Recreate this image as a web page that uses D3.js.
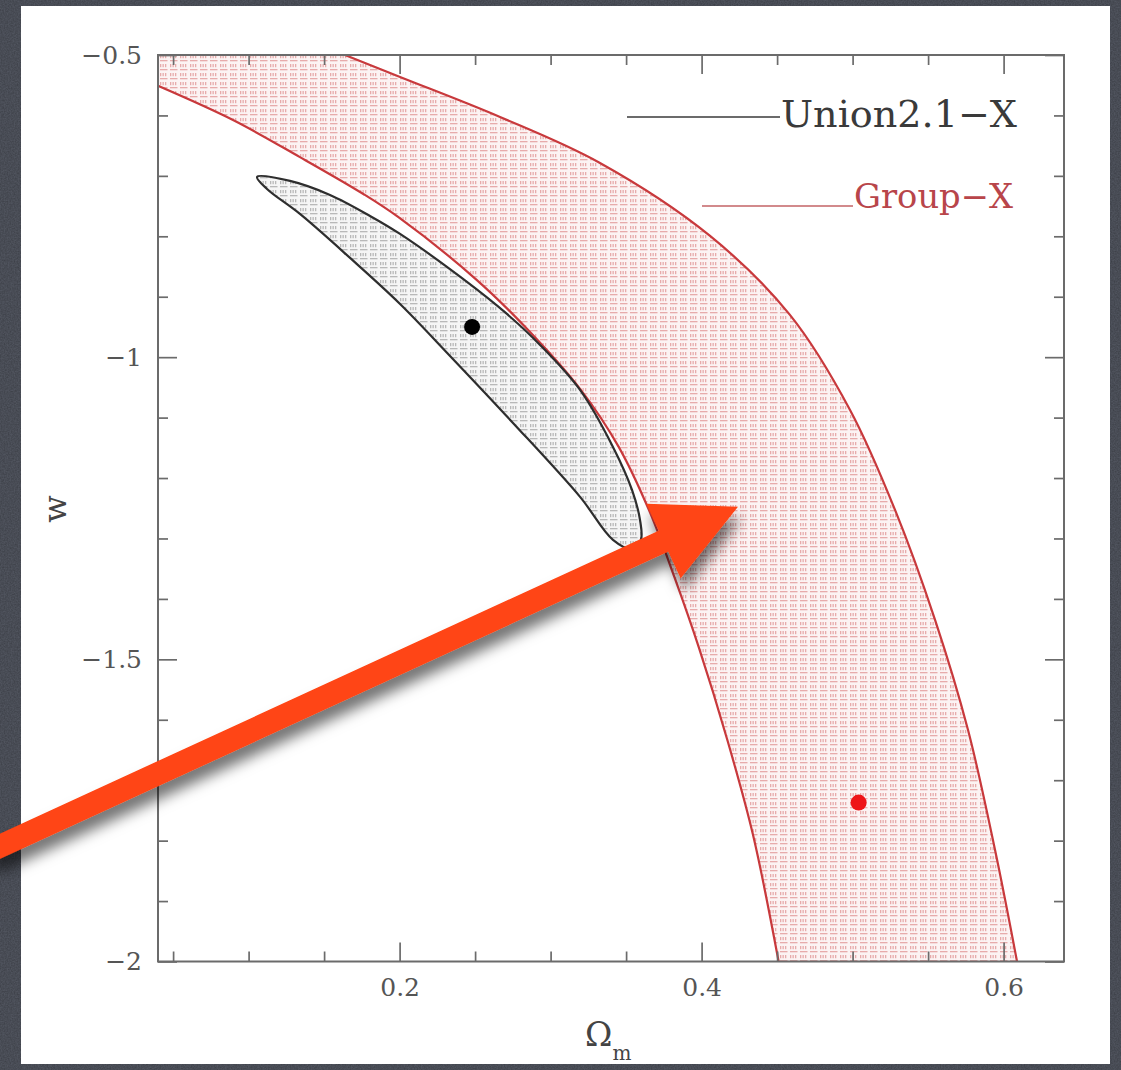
<!DOCTYPE html>
<html>
<head>
<meta charset="utf-8">
<script src="https://cdn.jsdelivr.net/npm/d3@7"></script>
<style>
  html, body { margin: 0; padding: 0; background: #4f535c; }
  svg { display: block; }
</style>
</head>
<body>
<div id="chart"></div>
<script>
/* Omega_m vs w constraints: Union2.1-X contour + Group-X band */

/* ── Data ──────────────────────────────────────────────────────────── */

const X_DOMAIN = [0.04, 0.64];
const Y_DOMAIN = [-2, -0.5];

const X_MAJOR = [0.2, 0.4, 0.6];
const X_LABELS = ['0.2', '0.4', '0.6'];
const X_MINOR = [0.05, 0.1, 0.15, 0.25, 0.3, 0.35, 0.45, 0.5, 0.55];

const Y_MAJOR = [-0.5, -1, -1.5, -2];
const Y_LABELS = ['\u22120.5', '\u22121', '\u22121.5', '\u22122'];
const Y_MINOR = [-0.6, -0.7, -0.8, -0.9, -1.1, -1.2, -1.3, -1.4, -1.6, -1.7, -1.8, -1.9];

// Group-X band, inner (left) edge
const GROUP_LEFT_OM = [0.040, 0.090, 0.134, 0.176, 0.199, 0.251, 0.287, 0.320, 0.345, 0.366, 0.382, 0.398, 0.417, 0.434, 0.451];
const GROUP_LEFT_W  = [-0.551, -0.608, -0.669, -0.730, -0.768, -0.872, -0.960, -1.054, -1.148, -1.258, -1.364, -1.479, -1.633, -1.790, -2.0];

// Group-X band, outer (right) edge
const GROUP_RIGHT_OM = [0.1638, 0.2003, 0.2665, 0.3327, 0.4056, 0.4585, 0.4983, 0.5281, 0.5546, 0.5764, 0.5943, 0.6089];
const GROUP_RIGHT_W  = [-0.5, -0.5364, -0.6026, -0.6787, -0.7994, -0.9301, -1.0873, -1.2527, -1.4347, -1.6166, -1.8151, -2.0];

// Union2.1-X closed contour
const UNION_OM = [0.1056, 0.1274, 0.1539, 0.1804, 0.2003, 0.2420, 0.2711, 0.2930, 0.3195, 0.3413, 0.3539, 0.3592, 0.3598, 0.3539,
                  0.3413, 0.3195, 0.2751, 0.2334, 0.2003, 0.1672, 0.1340, 0.1122];
const UNION_W  = [-0.7018, -0.7084, -0.7316, -0.7663, -0.7961, -0.8705, -0.9285, -0.9797, -1.0542, -1.1485, -1.2196, -1.2692, -1.3023, -1.3172,
                  -1.3023, -1.2312, -1.1088, -0.9979, -0.9119, -0.8358, -0.7630, -0.7217];

// best-fit points
const UNION_BEST = [0.248, -0.95];
const GROUP_BEST = [0.504, -1.737];

// annotation arrow (data coordinates, tail runs off the panel)
const ARROW_FROM = [-0.0713, -1.817];
const ARROW_TO = [0.4241, -1.2477];

const zip = (a, b) => a.map((v, i) => [v, b[i]]);

/* ── Layout ────────────────────────────────────────────────────────── */

const width = 1121, height = 1070;
const plot = { left: 158, right: 1064, top: 55, bottom: 961.5 };

const x = d3.scaleLinear().domain(X_DOMAIN).range([plot.left, plot.right]);
const y = d3.scaleLinear().domain(Y_DOMAIN).range([plot.bottom, plot.top]);

const svg = d3.select('#chart').append('svg')
  .attr('width', width)
  .attr('height', height);

const defs = svg.append('defs');

// slide background texture
const noise = defs.append('filter').attr('id', 'noise')
  .attr('x', 0).attr('y', 0).attr('width', '100%').attr('height', '100%');
noise.append('feTurbulence').attr('type', 'fractalNoise')
  .attr('baseFrequency', 0.7).attr('numOctaves', 2).attr('seed', 4);
noise.append('feColorMatrix').attr('type', 'matrix')
  .attr('values', '0 0 0 0 0  0 0 0 0 0  0 0 0 0 0  0.35 0 0 0 -0.08');

svg.append('rect').attr('width', width).attr('height', height).attr('fill', '#50545e');
svg.append('rect').attr('width', width).attr('height', height).attr('filter', 'url(#noise)');

// hatch patterns like the plotted dot-fill
function makeHatch(id, ink, bg) {
  const p = defs.append('pattern').attr('id', id)
    .attr('patternUnits', 'userSpaceOnUse')
    .attr('width', 10).attr('height', 9);
  p.append('rect').attr('width', 10).attr('height', 9).attr('fill', bg);
  [0, 2.5, 5].forEach(px => {
    p.append('rect').attr('x', px).attr('y', 1).attr('width', 1.3).attr('height', 3.2).attr('fill', ink);
  });
  p.append('rect').attr('x', 0).attr('y', 6).attr('width', 7.5).attr('height', 1.3).attr('fill', ink);
}
makeHatch('hatch-red', '#e7abab', '#fcf3f3');
makeHatch('hatch-grey', '#b8b8b8', '#f5f5f5');

defs.append('clipPath').attr('id', 'plot-clip')
  .append('rect')
  .attr('x', plot.left).attr('y', plot.top)
  .attr('width', plot.right - plot.left).attr('height', plot.bottom - plot.top);

const shadow = defs.append('filter').attr('id', 'shadow')
  .attr('x', '-20%').attr('y', '-20%').attr('width', '140%').attr('height', '160%');
shadow.append('feDropShadow')
  .attr('dx', 3).attr('dy', 12).attr('stdDeviation', 7)
  .attr('flood-color', '#000').attr('flood-opacity', 0.55);

// white slide panel
svg.append('rect')
  .attr('x', 21).attr('y', 6)
  .attr('width', 1089).attr('height', 1058)
  .attr('fill', '#ffffff');

/* ── Contours ──────────────────────────────────────────────────────── */

const line = d3.line().x(d => x(d[0])).y(d => y(d[1])).curve(d3.curveCatmullRom.alpha(0.5));
const loop = d3.line().x(d => x(d[0])).y(d => y(d[1])).curve(d3.curveCatmullRomClosed.alpha(0.5));

const leftPts = zip(GROUP_LEFT_OM, GROUP_LEFT_W);
const rightPts = zip(GROUP_RIGHT_OM, GROUP_RIGHT_W);
const unionPts = zip(UNION_OM, UNION_W);

const plotG = svg.append('g').attr('clip-path', 'url(#plot-clip)');

// band: left edge down, right edge back up, close through top-left corner
const bandPath = line(leftPts)
  + 'L' + line(rightPts.slice().reverse()).slice(1)
  + 'L' + x(X_DOMAIN[0]) + ',' + y(Y_DOMAIN[1]) + 'Z';

plotG.append('path')
  .attr('d', bandPath)
  .attr('fill', 'url(#hatch-red)');

plotG.append('path')
  .attr('d', loop(unionPts))
  .attr('fill', 'url(#hatch-grey)');

[leftPts, rightPts].forEach(pts => {
  plotG.append('path')
    .attr('d', line(pts))
    .attr('fill', 'none')
    .attr('stroke', '#c8393c')
    .attr('stroke-width', 2.2);
});

plotG.append('path')
  .attr('d', loop(unionPts))
  .attr('fill', 'none')
  .attr('stroke', '#2e2e2e')
  .attr('stroke-width', 2.2);

plotG.append('circle')
  .attr('cx', x(UNION_BEST[0])).attr('cy', y(UNION_BEST[1]))
  .attr('r', 8).attr('fill', '#000');

plotG.append('circle')
  .attr('cx', x(GROUP_BEST[0])).attr('cy', y(GROUP_BEST[1]))
  .attr('r', 8).attr('fill', '#ee1418');

/* ── Axes ──────────────────────────────────────────────────────────── */

const AXIS_COLOR = '#6b6b6b';
const FONT = '"DejaVu Serif", serif';

function styleAxis(g) {
  g.select('.domain').remove();
  g.selectAll('.tick line').attr('stroke', AXIS_COLOR).attr('stroke-width', 1.7);
  g.selectAll('.tick text')
    .attr('fill', '#555')
    .attr('font-family', FONT)
    .attr('font-size', 25);
}

svg.append('g').attr('transform', `translate(0,${plot.bottom})`)
  .call(d3.axisBottom(x).tickValues(X_MAJOR).tickSize(-19).tickSizeOuter(0).tickPadding(17)
    .tickFormat((d, i) => X_LABELS[i]))
  .call(styleAxis);
svg.append('g').attr('transform', `translate(0,${plot.bottom})`)
  .call(d3.axisBottom(x).tickValues(X_MINOR).tickSize(-10).tickSizeOuter(0).tickFormat(''))
  .call(styleAxis);

svg.append('g').attr('transform', `translate(0,${plot.top})`)
  .call(d3.axisTop(x).tickValues(X_MAJOR).tickSize(-19).tickSizeOuter(0).tickFormat(''))
  .call(styleAxis);
svg.append('g').attr('transform', `translate(0,${plot.top})`)
  .call(d3.axisTop(x).tickValues(X_MINOR).tickSize(-10).tickSizeOuter(0).tickFormat(''))
  .call(styleAxis);

svg.append('g').attr('transform', `translate(${plot.left},0)`)
  .call(d3.axisLeft(y).tickValues(Y_MAJOR).tickSize(-19).tickSizeOuter(0).tickPadding(16)
    .tickFormat((d, i) => Y_LABELS[i]))
  .call(styleAxis);
svg.append('g').attr('transform', `translate(${plot.left},0)`)
  .call(d3.axisLeft(y).tickValues(Y_MINOR).tickSize(-10).tickSizeOuter(0).tickFormat(''))
  .call(styleAxis);

svg.append('g').attr('transform', `translate(${plot.right},0)`)
  .call(d3.axisRight(y).tickValues(Y_MAJOR).tickSize(-19).tickSizeOuter(0).tickFormat(''))
  .call(styleAxis);
svg.append('g').attr('transform', `translate(${plot.right},0)`)
  .call(d3.axisRight(y).tickValues(Y_MINOR).tickSize(-10).tickSizeOuter(0).tickFormat(''))
  .call(styleAxis);

// frame
svg.append('rect')
  .attr('x', plot.left).attr('y', plot.top)
  .attr('width', plot.right - plot.left).attr('height', plot.bottom - plot.top)
  .attr('fill', 'none')
  .attr('stroke', AXIS_COLOR)
  .attr('stroke-width', 2);

// axis titles
svg.append('text')
  .attr('transform', 'translate(66,509) rotate(-90)')
  .attr('text-anchor', 'middle')
  .attr('font-family', FONT).attr('font-size', 32)
  .attr('fill', '#444')
  .text('w');

const omega = svg.append('text')
  .attr('x', 585).attr('y', 1046)
  .attr('font-family', FONT).attr('font-size', 33)
  .attr('fill', '#444');
omega.append('tspan').text('\u03A9');
omega.append('tspan').attr('dy', 14).attr('font-size', 20).text('m');

/* ── Legend ────────────────────────────────────────────────────────── */

svg.append('line')
  .attr('x1', 627).attr('x2', 780).attr('y1', 117).attr('y2', 117)
  .attr('stroke', '#3a3a3a').attr('stroke-width', 1.7);
svg.append('text')
  .attr('x', 781).attr('y', 127)
  .attr('font-family', FONT).attr('font-size', 37)
  .attr('textLength', 236).attr('lengthAdjust', 'spacingAndGlyphs')
  .attr('fill', '#3a3a3a')
  .text('Union2.1\u2212X');

svg.append('line')
  .attr('x1', 702).attr('x2', 853).attr('y1', 206).attr('y2', 206)
  .attr('stroke', '#d28a8c').attr('stroke-width', 2);
svg.append('text')
  .attr('x', 854).attr('y', 208)
  .attr('font-family', FONT).attr('font-size', 33)
  .attr('textLength', 159).attr('lengthAdjust', 'spacingAndGlyphs')
  .attr('fill', '#b8454a')
  .text('Group\u2212X');

/* ── Annotation arrow ──────────────────────────────────────────────── */

const a0 = [x(ARROW_FROM[0]), y(ARROW_FROM[1])];
const a1 = [x(ARROW_TO[0]), y(ARROW_TO[1])];
const len = Math.hypot(a1[0] - a0[0], a1[1] - a0[1]);
const ux = (a1[0] - a0[0]) / len, uy = (a1[1] - a0[1]) / len;
const nx = -uy, ny = ux;
const headLen = 82, headHalf = 41, shaftHalf = 11.5;
const bx = a1[0] - ux * headLen, by = a1[1] - uy * headLen;

const arrowPts = [
  [a0[0] + nx * shaftHalf, a0[1] + ny * shaftHalf],
  [bx + nx * shaftHalf, by + ny * shaftHalf],
  [bx + nx * headHalf, by + ny * headHalf],
  a1,
  [bx - nx * headHalf, by - ny * headHalf],
  [bx - nx * shaftHalf, by - ny * shaftHalf],
  [a0[0] - nx * shaftHalf, a0[1] - ny * shaftHalf],
];

svg.append('path')
  .attr('d', 'M' + arrowPts.map(p => p.join(',')).join('L') + 'Z')
  .attr('fill', '#ff4412')
  .attr('filter', 'url(#shadow)');
</script>
</body>
</html>
